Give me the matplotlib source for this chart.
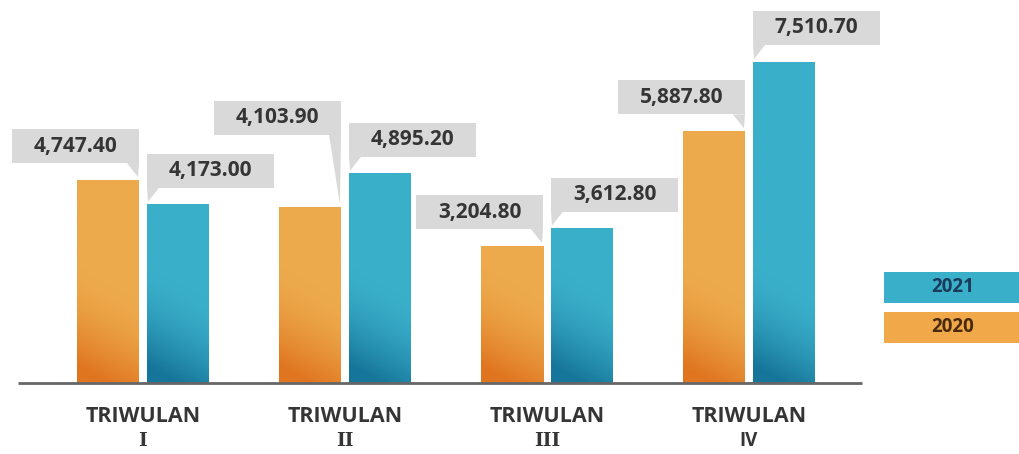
import matplotlib.pyplot as plt
import matplotlib.patches as patches
import numpy as np
from matplotlib.colors import to_rgb

quarters = ["I", "II", "III", "IV"]
values_2020 = [4747.40, 4103.90, 3204.80, 5887.80]
values_2021 = [4173.00, 4895.20, 3612.80, 7510.70]
legend_labels = ["2021", "2020"]

ORANGE_TOP, ORANGE_BOT = "#EDAA4C", "#E07520"
BLUE_TOP, BLUE_BOT = "#3AAFCA", "#16759A"
BOX = "#D9D9D9"
TXT = "#353535"

# pixel -> data conversion (figure is 1020x454 px, axes fill it)
PX = 1 / 202.0
PY = 7510.7 / 321.0


def gradient_bar(ax, bar, top_c, bot_c):
    x0, w, h = bar.get_x(), bar.get_width(), bar.get_height()
    yy = np.linspace(0, h, 300)[:, None]
    xx = np.linspace(0, 1, 60)[None, :]
    t = (2300 - yy) / 2300 - 0.35 * (xx - 0.5)
    t = np.clip(t, 0, 1) ** 1.6
    top = np.array(to_rgb(top_c))
    bot = np.array(to_rgb(bot_c))
    img = top * (1 - t[..., None]) + bot * t[..., None]
    ax.imshow(img, extent=(x0, x0 + w, 0, h), origin="lower",
              aspect="auto", zorder=2, interpolation="bilinear")
    bar.set_visible(False)


def callout(ax, bar, left_side, lift=0):
    x0, w, h = bar.get_x(), bar.get_width(), bar.get_height()
    bw, bh, gap = 127 * PX, 34 * PY, (17 + lift) * PY
    yb = h + gap
    if left_side:
        right = x0 + w
        bx = right - bw
        tri = [(right - 12 * PX, yb), (right, yb), (right - 1 * PX, h + 3 * PY)]
    else:
        bx = x0
        tri = [(x0, yb), (x0 + 12 * PX, yb), (x0 + 1 * PX, h + 3 * PY)]
    ax.add_patch(patches.Rectangle((bx, yb), bw, bh, facecolor=BOX,
                                   edgecolor="none", zorder=3))
    ax.add_patch(patches.Polygon(tri, closed=True, facecolor=BOX,
                                 edgecolor="none", zorder=3))
    ax.text(bx + bw / 2, yb + bh / 2, f"{h:,.2f}", ha="center", va="center",
            fontsize=15, fontweight="bold", color=TXT, family="Open Sans",
            zorder=4)


fig = plt.figure(figsize=(10.2, 4.54), dpi=100)
ax = fig.add_axes([0, 0, 1, 1])
ax.set_axis_off()

x = np.arange(len(quarters))
off = 70 * PX / 2
width = 62 * PX
bars20 = ax.bar(x - off, values_2020, width)
bars21 = ax.bar(x + off, values_2021, width)

lift20 = [0, 56, 0, 0]  # Q2 label sits higher to clear its neighbour
for b, lf in zip(bars20, lift20):
    gradient_bar(ax, b, ORANGE_TOP, ORANGE_BOT)
    callout(ax, b, True, lf)
for b in bars21:
    gradient_bar(ax, b, BLUE_TOP, BLUE_BOT)
    callout(ax, b, False)

# baseline
ax.plot([(18 - 143) * PX, (862 - 143) * PX], [0, 0], color="#666666",
        lw=2, solid_capstyle="butt", zorder=5)

for i, q in enumerate(quarters):
    ax.text(i, -34 * PY, "TRIWULAN", ha="center", va="center", fontsize=15.5,
            fontweight="bold", color=TXT, family="Open Sans")
    ax.text(i, -58 * PY, q, ha="center", va="center", fontsize=13.5,
            fontweight="bold", color=TXT,
            family="DejaVu Serif" if q != "IV" else "Open Sans")

ax.set_xlim(-143 * PX, (1020 - 143) * PX)
ax.set_ylim(-71 * PY, 383 * PY)

# legend boxes
leg_colors = [("#3AAFCA", "#1B3B5C"), ("#F0A848", "#4A2A0E")]
leg_top = [272, 312]
for lab, (fc, tc), yt in zip(legend_labels, leg_colors, leg_top):
    fig.add_artist(patches.Rectangle((884 / 1020, 1 - (yt + 31) / 454),
                                     136 / 1020, 31 / 454, facecolor=fc,
                                     edgecolor="none",
                                     transform=fig.transFigure))
    fig.text(953 / 1020, 1 - (yt + 15.5) / 454, lab, ha="center",
             va="center", fontsize=13.5, fontweight="bold", color=tc,
             family="Open Sans")

fig.savefig("out.png", dpi=100)
